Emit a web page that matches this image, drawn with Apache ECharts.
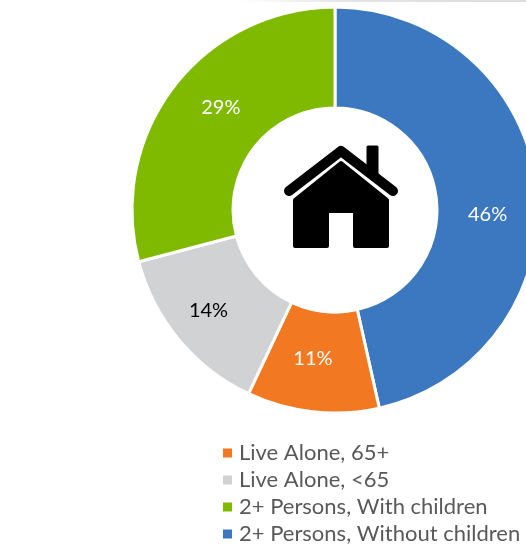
<!DOCTYPE html>
<html><head><meta charset="utf-8">
<style>html,body{margin:0;padding:0;background:#fff}#c{width:526px;height:544px}</style>
<script src="https://cdn.jsdelivr.net/npm/echarts@6/dist/echarts.min.js"></script>
</head><body><div id="c"></div>
<script>
const categories = ['2+ Persons, Without children','Live Alone, 65+','Live Alone, <65','2+ Persons, With children'];
const values = [46.5,10.5,13.9,29.1];
const labelTexts = ['46%','11%','14%','29%'];
const colors = ['#3B78BF','#F27821','#D0D2D3','#7FBA00'];
const labelColors = ['#fff','#fff','#000','#fff'];
const labelOffsets = [[-2,22],[-5,-6],[-7,1],[9,-8]];
const legendOrder = ['Live Alone, 65+','Live Alone, <65','2+ Persons, With children','2+ Persons, Without children'];
const houseBody = [[295,200],[341,163],[387,200],[387,246],[355,246],[355,211],[327,211],[327,246],[295,246]];
const houseRoof = [[289,191],[341,151],[393,191]];
const houseChimney = [[368,147],[377,147],[377,176],[368,170]];
const chart = echarts.init(document.getElementById('c'), null, {renderer:'canvas'});
chart.setOption({
  animation:false,
  color:colors,
  legend:{
    data:legendOrder, orient:'vertical', left:216, top:442, height:140,
    icon:'rect', itemWidth:11, itemHeight:11, itemGap:5, padding:[0,0,0,5],
    textStyle:{fontFamily:'Lato',fontSize:22,lineHeight:21,color:'#595959',padding:[0,0,0,1]}
  },
  graphic:[
    {type:'rect',shape:{x:240,y:0,width:286,height:2},
     style:{fill:{type:'linear',x:0,y:0,x2:1,y2:0,colorStops:[{offset:0,color:'#FFFFFF'},{offset:0.4,color:'#E3E3E3'},{offset:1,color:'#DDDDDD'}]}},silent:true},
    {type:'polygon',shape:{points:houseBody},style:{fill:'#000',stroke:'#000',lineWidth:4,lineJoin:'round'},silent:true},
    {type:'polygon',shape:{points:houseChimney},style:{fill:'#000',stroke:'#000',lineWidth:3,lineJoin:'round'},silent:true},
    {type:'polyline',shape:{points:houseRoof},style:{fill:null,stroke:'#000',lineWidth:10,lineJoin:'round',lineCap:'round'},silent:true}
  ],
  series:[{
    type:'pie', center:[335,210], radius:[102,203], startAngle:90, clockwise:true,
    itemStyle:{borderColor:'#fff',borderWidth:3},
    label:{position:'inside',fontFamily:'Lato',fontSize:20},
    labelLine:{show:false},
    emphasis:{disabled:true},
    data:categories.map((n,i)=>({name:n,value:values[i],
      label:{color:labelColors[i],offset:labelOffsets[i],formatter:labelTexts[i]}}))
  }]
});
</script></body></html>
